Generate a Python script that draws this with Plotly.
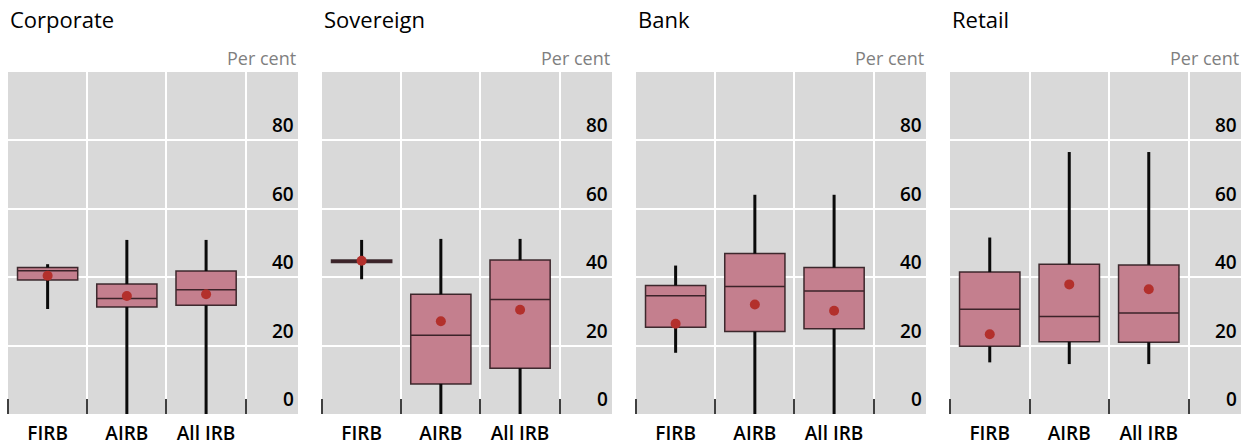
import plotly.graph_objects as go

# Risk-weight distributions by portfolio and approach (per cent)
panels = ["Corporate", "Sovereign", "Bank", "Retail"]
categories = ["FIRB", "AIRB", "All IRB"]

lower_whisker = [[30.7, 0.0, 0.0], [39.4, 0.0, 0.0], [17.9, 0.0, 0.0], [15.1, 14.6, 14.6]]
q1 = [[39.2, 31.3, 31.8], [44.3, 8.8, 13.4], [25.4, 24.1, 24.9], [19.8, 21.1, 21.0]]
median = [[41.9, 33.8, 36.3], [44.6, 23.0, 33.5], [34.6, 37.3, 36.0], [30.6, 28.5, 29.5]]
q3 = [[42.8, 38.0, 41.8], [45.0, 35.0, 45.0], [37.6, 46.9, 42.8], [41.5, 43.8, 43.6]]
upper_whisker = [[43.8, 50.9, 50.9], [50.9, 51.2, 51.2], [43.4, 64.1, 64.1], [51.6, 76.6, 76.6]]
mean = [[40.4, 34.5, 35.0], [44.8, 27.1, 30.5], [26.4, 32.0, 30.2], [23.3, 37.9, 36.5]]

y_ticks = [0, 20, 40, 60, 80]
unit_label = "Per cent"

BG = "#d9d9d9"
BOX_FILL = "#c47f8e"
BOX_LINE = "rgba(45,25,30,0.9)"
MEAN_COLOR = "#b3302c"
FONT = "Open Sans"

W, H = 1255, 445
panel_px = [(8, 298), (322, 612), (636, 926), (950, 1241)]
plot_top, plot_bottom = 72, 414

fig = go.Figure()
xpos = list(range(len(categories)))

for p, name in enumerate(panels):
    ax = "" if p == 0 else str(p + 1)
    xa, ya = "x" + ax, "y" + ax

    # whiskers
    wx, wy = [], []
    for i in xpos:
        wx += [i, i, None, i, i, None]
        wy += [lower_whisker[p][i], q1[p][i], None, q3[p][i], upper_whisker[p][i], None]
    fig.add_trace(go.Scatter(
        x=wx, y=wy, mode="lines", line=dict(color="#0a0a0a", width=3),
        xaxis=xa, yaxis=ya, showlegend=False, hoverinfo="skip"))

    # boxes
    fig.add_trace(go.Box(
        x=xpos, q1=q1[p], median=median[p], q3=q3[p],
        lowerfence=q1[p], upperfence=q3[p],
        width=0.76, fillcolor=BOX_FILL, line=dict(color=BOX_LINE, width=1.5),
        whiskerwidth=0, xaxis=xa, yaxis=ya, showlegend=False))

    # means
    fig.add_trace(go.Scatter(
        x=xpos, y=mean[p], mode="markers",
        marker=dict(color=MEAN_COLOR, size=10),
        xaxis=xa, yaxis=ya, showlegend=False))

    x0, x1 = panel_px[p]
    fig.update_layout({
        "xaxis" + ax: dict(
            domain=[x0 / W, x1 / W], range=[-0.5, 3.16], anchor=ya,
            tickmode="array", tickvals=xpos, ticktext=categories,
            ticks="", ticklabelstandoff=6, showgrid=False, zeroline=False, showline=False,
            tickfont=dict(family=FONT, size=19, color="#000000", weight=600),
            minor=dict(tick0=-0.5, dtick=1, ticks="inside", ticklen=15,
                       tickwidth=1.5, tickcolor="#404040",
                       showgrid=True, gridcolor="white", gridwidth=1.5),
            fixedrange=True),
        "yaxis" + ax: dict(
            domain=[(H - plot_bottom) / H, (H - plot_top) / H], range=[0, 100],
            anchor=xa, tickmode="array", tickvals=y_ticks,
            showticklabels=False, ticks="", showgrid=True,
            gridcolor="white", gridwidth=1.5, zeroline=False, showline=False,
            fixedrange=True),
    })

    # panel title
    fig.add_annotation(text=name, xref="paper", yref="paper",
                       x=x0 / W, y=1 - 2 / H, xanchor="left", yanchor="top",
                       showarrow=False, font=dict(family=FONT, size=22, color="#000000"))
    # unit label
    fig.add_annotation(text=unit_label, xref=xa + " domain", yref=ya + " domain",
                       x=1, y=1, xanchor="right", yanchor="bottom", yshift=0,
                       showarrow=False, font=dict(family=FONT, size=18, color="#7f7f7f"))
    # y tick labels sitting just above each gridline
    for t in y_ticks:
        fig.add_annotation(text=str(t), xref=xa + " domain", yref=ya,
                           x=1, y=t, xanchor="right", yanchor="bottom", xshift=-2,
                           showarrow=False,
                           font=dict(family=FONT, size=19, color="#000000", weight=600))

fig.update_layout(
    width=W, height=H,
    margin=dict(l=0, r=0, t=0, b=0),
    paper_bgcolor="white", plot_bgcolor=BG,
    boxmode="overlay",
)

fig.write_html("out.html")
